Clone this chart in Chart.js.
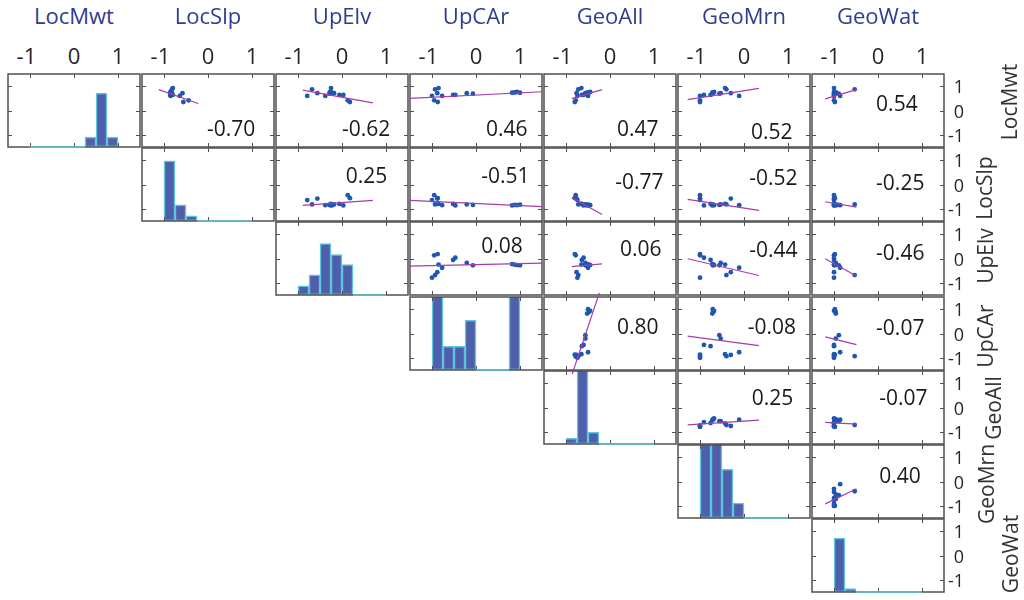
<!DOCTYPE html>
<html>
<head>
<meta charset="utf-8">
<script src="https://cdn.jsdelivr.net/npm/chart.js@4.4.1/dist/chart.umd.min.js"></script>
<style>
  body { margin: 0; background: #fff; }
  #wrap { position: relative; width: 1024px; height: 600px; overflow: hidden; font-family: "Open Sans", sans-serif; }
  #wrap canvas { position: absolute; }
  .t { position: absolute; white-space: nowrap; line-height: 1; }
</style>
</head>
<body>
<div id="wrap"></div>
<script>
// variables, in matrix order
const varNames = ['LocMwt', 'LocSlp', 'UpElv', 'UpCAr', 'GeoAll', 'GeoMrn', 'GeoWat'];

// one value per site
const locMwt = [0.60, 0.87, 0.71, 0.42, 0.35, 0.92, 0.60, 0.64, 0.64, 0.71, 0.69, 0.73, 0.74, 0.76, 0.73];
const locSlp = [-0.64, -0.82, -0.58, -0.44, -0.56, -0.80, -0.85, -0.80, -0.86, -0.82, -0.84, -0.86, -0.84, -0.85, -0.83];
const upElv  = [-0.79, -0.68, -0.56, 0.13, 0.18, -0.25, -0.38, -0.06, 0.03, -0.18, -0.28, -0.23, -0.25, -0.27, -0.28];
const upCAr  = [-1.00, -0.93, -0.88, -0.95, -0.87, -0.85, -0.77, -0.52, -0.47, -0.21, -0.07, 0.82, 0.88, 0.93, 1.00];
const geoAll = [-0.74, -0.72, -0.76, -0.78, -0.80, -0.65, -0.50, -0.64, -0.60, -0.56, -0.56, -0.52, -0.48, -0.45, -0.50];
const geoMrn = [-1.00, -0.40, -0.30, -1.00, -1.00, -0.43, -0.11, -0.76, -0.91, -0.53, -0.56, -0.72, -0.70, -0.68, -0.71];
const geoWat = [-1.00, -0.53, -1.00, -1.00, -0.98, -1.00, -0.86, -1.00, -1.00, -0.96, -0.89, -0.96, -0.96, -1.00, -0.98];

// histogram bins and bar heights (axis units, panel is 3 units tall)
const binEdges = [-1, -0.75, -0.5, -0.25, 0, 0.25, 0.5, 0.75, 1];
const histLocMwt = [0, 0, 0, 0, 0, 0.41, 2.22, 0.41];
const histLocSlp = [2.47, 0.66, 0.21, 0, 0, 0, 0, 0];
const histUpElv  = [0.38, 0.83, 2.11, 1.66, 1.25, 0, 0, 0];
const histUpCAr  = [3.1, 0.97, 0.97, 2.04, 0, 0, 0, 3.1];
const histGeoAll = [0.23, 3.1, 0.48, 0, 0, 0, 0, 0];
const histGeoMrn = [3.1, 3.1, 2.0, 0.61, 0, 0, 0, 0];
const histGeoWat = [2.22, 0.14, 0, 0, 0, 0, 0, 0];

// correlation coefficients, per row (columns to the right of the diagonal)
const corrLocMwt = [-0.70, -0.62, 0.46, 0.47, 0.52, 0.54];
const corrLocSlp = [0.25, -0.51, -0.77, -0.52, -0.25];
const corrUpElv  = [0.08, 0.06, -0.44, -0.46];
const corrUpCAr  = [0.80, -0.08, -0.07];
const corrGeoAll = [0.25, -0.07];
const corrGeoMrn = [0.40];

// least squares lines: x span per column, end values per panel
const fitFrom = [null, -1.12, -0.89, -1.5, -0.87, -1.28, -1.2];
const fitTo   = [null, -0.22, 0.70, 1.5, -0.18, 0.34, -0.49];
const fitLocMwt = [[0.86, 0.29], [0.84, 0.31], [0.50, 0.77], [0.49, 0.86], [0.45, 0.91], [0.48, 0.86]];
const fitLocSlp = [[-0.86, -0.65], [-0.65, -0.91], [-0.54, -1.23], [-0.61, -1.06], [-0.71, -0.93]];
const fitUpElv  = [[-0.31, -0.19], [-0.33, -0.22], [-0.01, -0.70], [-0.01, -0.72]];
const fitUpCAr  = [[-1.72, 2.0], [-0.11, -0.50], [-0.14, -0.46]];
const fitGeoAll = [[-0.71, -0.52], [-0.61, -0.68]];
const fitGeoMrn = [[-0.92, -0.30]];

const axisTicks = [-1, 0, 1];

const cols  = [locMwt, locSlp, upElv, upCAr, geoAll, geoMrn, geoWat];
const hists = [histLocMwt, histLocSlp, histUpElv, histUpCAr, histGeoAll, histGeoMrn, histGeoWat];
const corrs = [corrLocMwt, corrLocSlp, corrUpElv, corrUpCAr, corrGeoAll, corrGeoMrn];
const fits  = [fitLocMwt, fitLocSlp, fitUpElv, fitUpCAr, fitGeoAll, fitGeoMrn];

// layout
const X0 = 8, Y0 = 74, DX = 134, DY = 74.17, PW = 132, PH = 73, PAD = 4;
// where each coefficient sits inside its panel (axis units: left edge, middle)
const corrPos = [
  [[0.0, -0.72], [0.02, -0.72], [0.25, -0.72], [0.18, -0.72], [0.18, -0.84], [-0.02, 0.31]],
  [[0.11, 0.4], [0.14, 0.4], [0.14, 0.15], [0.14, 0.32], [-0.02, 0.11]],
  [[0.14, 0.57], [0.25, 0.44], [0.14, 0.4], [-0.02, 0.28]],
  [[0.18, 0.29], [0.11, 0.29], [-0.02, 0.25]],
  [[0.2, 0.42], [0.05, 0.42]],
  [[0.05, 0.26]]
];
const rowLabelX = [1009, 984, 985, 985, 993, 986, 1010];
const rowLabelY = [102, 188, 256, 336, 408, 484, 554];

const FILL = '#4e5fab', EDGE = '#5cc6dc', DOT = '#1f56b1', FIT = '#a43ea8', FRAME = '#505050';
const TITLE = '#2e3d8f', INK = '#262626';

const wrap = document.getElementById('wrap');
const measure = document.createElement('canvas').getContext('2d');

// box with inward ticks on all four sides
const frame = {
  id: 'frame',
  afterDatasetDraw(chart, args) {
    if (args.index !== 1) return;
    const { ctx, chartArea: a, scales: { x, y } } = chart;
    ctx.save();
    ctx.strokeStyle = FRAME;
    ctx.lineWidth = 1.5;
    ctx.strokeRect(a.left, a.top, a.width, a.height);
    ctx.lineWidth = 1;
    ctx.beginPath();
    axisTicks.forEach(v => {
      const px = Math.round(x.getPixelForValue(v)) + 0.5;
      const py = Math.round(y.getPixelForValue(v)) + 0.5;
      ctx.moveTo(px, a.bottom); ctx.lineTo(px, a.bottom - 4);
      ctx.moveTo(px, a.top); ctx.lineTo(px, a.top + 4);
      ctx.moveTo(a.left, py); ctx.lineTo(a.left + 4, py);
      ctx.moveTo(a.right, py); ctx.lineTo(a.right - 4, py);
    });
    ctx.stroke();
    ctx.restore();
  }
};

function baseOptions() {
  return {
    responsive: false,
    animation: false,
    events: [],
    layout: { padding: PAD },
    scales: {
      x: { type: 'linear', min: -1.5, max: 1.5, display: false, offset: false },
      y: { type: 'linear', min: -1.5, max: 1.5, display: false }
    },
    plugins: { legend: { display: false }, tooltip: { enabled: false } }
  };
}

function addText(str, x, y, css, tf) {
  const d = document.createElement('div');
  d.className = 't';
  d.textContent = str;
  d.style.cssText += `left:${x}px;top:${y}px;transform:${tf};` + css;
  wrap.appendChild(d);
  return d;
}

const charts = [];
for (let i = 0; i < 7; i++) {
  charts.push([]);
  for (let j = i; j < 7; j++) {
    const c = document.createElement('canvas');
    const left = Math.round(X0 + j * DX) - PAD, top = Math.round(Y0 + i * DY) - PAD;
    c.width = PW + 2 * PAD; c.height = PH + 2 * PAD;
    c.style.left = left + 'px'; c.style.top = top + 'px';
    c.style.width = c.width + 'px'; c.style.height = c.height + 'px';
    wrap.appendChild(c);

    let chart;
    if (i === j) {
      const h = hists[i];
      const bars = [], baseline = [];
      h.forEach((v, k) => {
        if (v > 0) {
          bars.push({ x: (binEdges[k] + binEdges[k + 1]) / 2, y: [-1.5, -1.5 + v] });
          baseline.push({ x: binEdges[k], y: null });
        } else {
          baseline.push({ x: binEdges[k], y: -1.5 }, { x: binEdges[k + 1], y: -1.5 });
        }
      });
      chart = new Chart(c, {
        type: 'bar',
        data: { datasets: [
          { type: 'line', data: baseline, borderColor: EDGE, borderWidth: 1.5, pointRadius: 0, spanGaps: false, clip: PAD },
          { data: bars, backgroundColor: FILL, borderColor: EDGE, borderWidth: 1.5, borderSkipped: false,
            barPercentage: 1, categoryPercentage: 1, clip: 0 }
        ] },
        options: baseOptions(),
        plugins: [frame]
      });
    } else {
      const pts = cols[j].map((v, k) => ({ x: v, y: cols[i][k] }));
      const f = fits[i][j - i - 1];
      chart = new Chart(c, {
        type: 'scatter',
        data: { datasets: [
          { type: 'line', data: [{ x: fitFrom[j], y: f[0] }, { x: fitTo[j], y: f[1] }],
            borderColor: FIT, borderWidth: 1.2, pointRadius: 0, clip: PAD },
          { data: pts, pointRadius: 2.4, pointBackgroundColor: DOT, pointBorderWidth: 0, showLine: false, clip: PAD }
        ] },
        options: baseOptions(),
        plugins: [frame]
      });
      // coefficient label
      const [px, py] = corrPos[i][j - i - 1];
      addText(corrs[i][j - i - 1].toFixed(2),
        left + chart.scales.x.getPixelForValue(px) - 1,
        top + chart.scales.y.getPixelForValue(py),
        'font-size:21px;color:#1a1a1a;', 'translateY(-50%)');
    }
    chart._left = left; chart._top = top;
    charts[i][j] = chart;
  }
}

// column titles and top tick labels (from the first row of panels)
measure.font = '22px "Open Sans"';
const digitW = measure.measureText('0').width;
for (let j = 0; j < 7; j++) {
  const ch = charts[0][j];
  const xs = ch.scales.x;
  addText(varNames[j], ch._left + (ch.chartArea.left + ch.chartArea.right) / 2, 15,
    `font-size:22px;color:${TITLE};`, 'translate(-50%,-50%)');
  axisTicks.forEach(v => {
    addText(String(v), ch._left + xs.getPixelForValue(v) + digitW / 2, 55,
      `font-size:22px;color:${INK};`, 'translate(-100%,-50%)');
  });
}

// right tick labels and row names (from the last column of panels)
for (let i = 0; i < 7; i++) {
  const ch = charts[i][6];
  const ys = ch.scales.y;
  axisTicks.forEach(v => {
    addText(String(v), 964, ch._top + ys.getPixelForValue(v),
      `font-size:18px;color:${INK};`, 'translate(-100%,-50%)');
  });
  addText(varNames[i], rowLabelX[i], rowLabelY[i],
    'font-size:21px;color:#333;', 'translate(-50%,-50%) rotate(-90deg)');
}
</script>
</body>
</html>
